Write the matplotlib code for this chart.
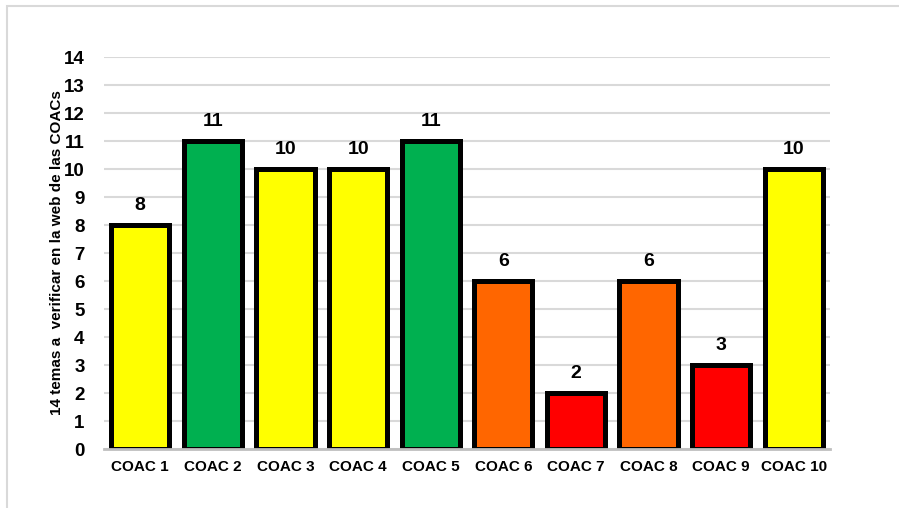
import matplotlib.pyplot as plt
from matplotlib.patches import Rectangle

# ---------------------------------------------------------
# data
# ---------------------------------------------------------
categories = ["COAC 1", "COAC 2", "COAC 3", "COAC 4", "COAC 5",
              "COAC 6", "COAC 7", "COAC 8", "COAC 9", "COAC 10"]
values = [8, 11, 10, 10, 11, 6, 2, 6, 3, 10]
bar_colors = ["#FFFF00", "#00B050", "#FFFF00", "#FFFF00", "#00B050",
              "#FF6600", "#FF0000", "#FF6600", "#FF0000", "#FFFF00"]
y_ticks = list(range(0, 15))
y_label = "14 temas a  verificar en la web de las COACs"

plt.rcParams["font.family"] = ["Liberation Sans", "DejaVu Sans"]
plt.rcParams["font.weight"] = "bold"

fig = plt.figure(figsize=(8.99, 5.08), dpi=100)
ax = fig.add_axes([104 / 899, 59 / 508, 726 / 899, 392 / 508])

# outer chart frame (only top and left edges are visible)
fig.patches.append(Rectangle((7 / 899, -0.1), 1.2, (508 - 6) / 508 + 0.1,
                             transform=fig.transFigure, fill=False,
                             edgecolor="#d9d9d9", linewidth=1.5))

x = range(len(categories))
ax.bar(x, values, width=0.8, color=bar_colors, edgecolor="black",
       linewidth=3.6, zorder=3)

for xi, v in zip(x, values):
    ax.annotate(str(v), (xi, v), xytext=(0, 8), textcoords="offset points",
                ha="center", va="bottom", fontsize=14, fontweight="bold")

ax.set_xlim(-0.5, len(categories) - 0.5)
ax.set_ylim(0, 14)
ax.set_yticks(y_ticks)
ax.set_yticklabels([str(t) for t in y_ticks], fontsize=13.5, fontweight="bold")
ax.set_xticks(list(x))
ax.set_xticklabels(categories, fontsize=11, fontweight="bold")
ax.tick_params(axis="both", length=0)
ax.tick_params(axis="x", pad=8)
ax.tick_params(axis="y", pad=14)

ax.grid(axis="y", color="#d9d9d9", linewidth=1.5, zorder=0)
for side in ["top", "right", "left"]:
    ax.spines[side].set_visible(False)
ax.spines["bottom"].set_color("#bfbfbf")
ax.spines["bottom"].set_linewidth(2)
ax.spines["bottom"].set_zorder(4)

ax.set_ylabel(y_label, fontsize=11, fontweight="bold", labelpad=0)

fig.savefig("out.png", dpi=100)
